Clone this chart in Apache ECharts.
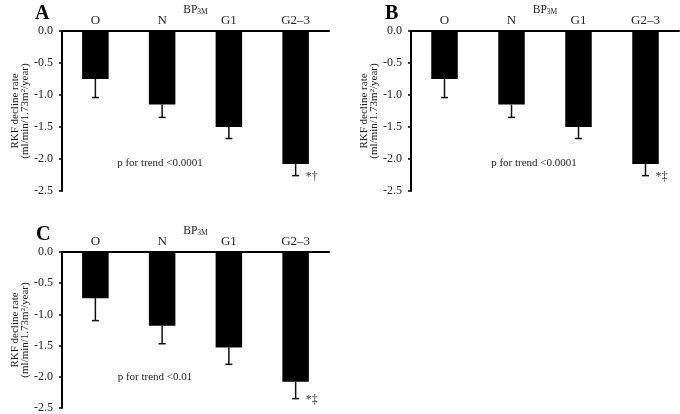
<!DOCTYPE html>
<html><head><meta charset="utf-8">
<script src="https://cdn.jsdelivr.net/npm/echarts@6/dist/echarts.min.js"></script>
<style>html,body{margin:0;padding:0;background:#fff}#c{width:680px;height:414px}</style>
</head><body><div id="c"></div>
<script>
const categories = ['O', 'N', 'G1', 'G2\u20133'];
const yTicks = [0, -0.5, -1.0, -1.5, -2.0, -2.5];
const meanA = [-0.75, -1.15, -1.50, -2.08];
const seA   = [0.29, 0.20, 0.18, 0.18];
const meanB = [-0.75, -1.15, -1.50, -2.08];
const seB   = [0.29, 0.20, 0.18, 0.18];
const meanC = [-0.74, -1.18, -1.53, -2.08];
const seC   = [0.36, 0.29, 0.27, 0.27];
const markA = ['', '', '', '*\u2020'];
const markB = ['', '', '', '*\u2021'];
const markC = ['', '', '', '*\u2021'];
const trendA = 'p for trend <0.0001';
const trendB = 'p for trend <0.0001';
const trendC = 'p for trend <0.01';

const FONT = '"Liberation Serif", "Times New Roman", serif';
const chart = echarts.init(document.getElementById('c'), null, {renderer: 'canvas'});

const grids = [
  {left: 62, top: 31, width: 267, height: 160},
  {left: 411, top: 31, width: 268, height: 160},
  {left: 62, top: 252, width: 267, height: 156}
];
const panels = [
  {mean: meanA, se: seA, mark: markA},
  {mean: meanB, se: seB, mark: markB},
  {mean: meanC, se: seC, mark: markC}
];

const xAxes = grids.map((g, i) => ({
  gridIndex: i, type: 'category', data: categories, position: 'top',
  axisLine: {show: true, lineStyle: {color: '#000', width: 2}},
  axisTick: {show: false},
  axisLabel: {color: '#222', fontFamily: FONT, fontSize: 13, margin: 4},
  name: '{a|BP}{b|3M}', nameLocation: 'middle', nameGap: 15, nameMoveOverlap: false,
  nameTextStyle: {rich: {
    a: {fontFamily: FONT, fontSize: 11.5, color: '#222', verticalAlign: 'bottom', lineHeight: 14},
    b: {fontFamily: FONT, fontSize: 7.5, color: '#222', verticalAlign: 'bottom', lineHeight: 10}
  }}
}));
const yAxes = grids.map((g, i) => ({
  gridIndex: i, type: 'value', min: yTicks[yTicks.length - 1], max: yTicks[0], interval: 0.5,
  splitLine: {show: false},
  axisLine: {show: true, lineStyle: {color: '#000', width: 2}},
  axisTick: {show: true, length: 3, lineStyle: {color: '#000', width: 1.5}},
  axisLabel: {color: '#222', fontFamily: FONT, fontSize: 12, margin: 9,
    formatter: v => (Math.abs(v) < 1e-9 ? '0.0' : v.toFixed(1))},
  name: 'RKF decline rate\n(ml/min/1.73m\u00b2/year)', nameLocation: 'middle', nameRotate: 90, nameGap: 32,
  nameMoveOverlap: false,
  nameTextStyle: {fontFamily: FONT, fontSize: 11, color: '#222', lineHeight: 10}
}));

const series = [];
panels.forEach((p, i) => {
  series.push({
    type: 'bar', xAxisIndex: i, yAxisIndex: i, data: p.mean, barWidth: 26.5,
    itemStyle: {color: '#000'}, silent: true
  });
  series.push({
    type: 'custom', xAxisIndex: i, yAxisIndex: i,
    data: p.mean.map((m, k) => [k, m, m - p.se[k]]),
    renderItem: (params, api) => {
      const k = api.value(0);
      const a = api.coord([k, api.value(1)]);
      const b = api.coord([k, api.value(2)]);
      const children = [
        {type: 'line', shape: {x1: a[0], y1: a[1], x2: b[0], y2: b[1]}, style: {stroke: '#111', lineWidth: 1.5}},
        {type: 'line', shape: {x1: b[0] - 3.5, y1: b[1], x2: b[0] + 3.5, y2: b[1]}, style: {stroke: '#111', lineWidth: 1.5}}
      ];
      const t = p.mark[k];
      if (t) children.push({type: 'text', x: b[0] + 10, y: b[1] + 1,
        style: {text: t, fill: '#333', font: '12px ' + FONT, verticalAlign: 'middle', align: 'left'}});
      return {type: 'group', children};
    },
    z: 5, silent: true
  });
});

const letterStyle = {fontFamily: FONT, fontSize: 20, fontWeight: 'bold', color: '#000'};
chart.setOption({
  animation: false,
  title: [
    {text: 'A', left: 35, top: 4, padding: 0, textStyle: letterStyle},
    {text: 'B', left: 385, top: 4, padding: 0, textStyle: letterStyle},
    {text: 'C', left: 36, top: 225, padding: 0, textStyle: letterStyle}
  ],
  grid: grids,
  xAxis: xAxes,
  yAxis: yAxes,
  series: series,
  graphic: [
    {type: 'text', x: 160, y: 163, style: {text: trendA, font: '11px ' + FONT, fill: '#222', align: 'center', verticalAlign: 'middle'}},
    {type: 'text', x: 534, y: 163, style: {text: trendB, font: '11px ' + FONT, fill: '#222', align: 'center', verticalAlign: 'middle'}},
    {type: 'text', x: 155, y: 377, style: {text: trendC, font: '11px ' + FONT, fill: '#222', align: 'center', verticalAlign: 'middle'}}
  ]
});
</script></body></html>
